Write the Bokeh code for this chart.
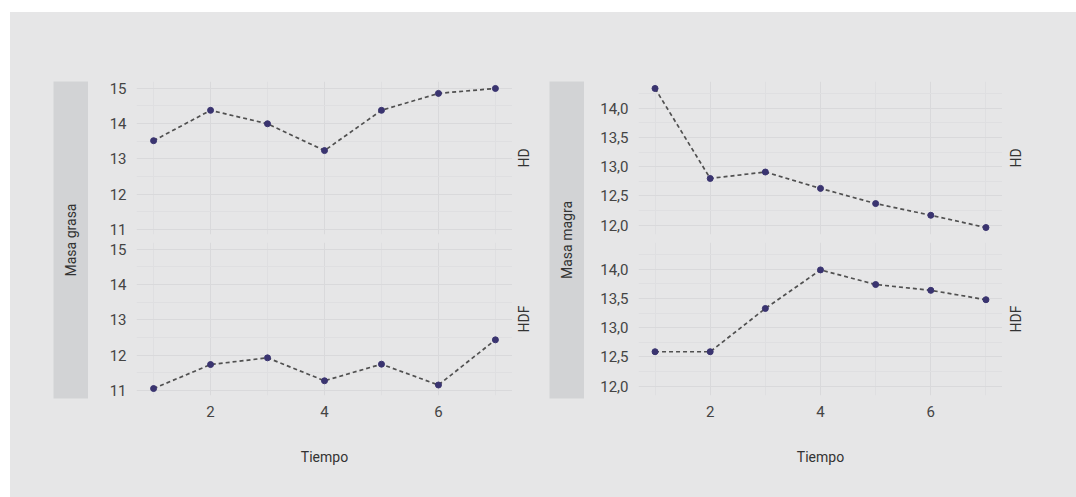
import math
from bokeh.plotting import figure
from bokeh.layouts import row, column
from bokeh.models import Range1d, Label, FixedTicker, CustomJSTickFormatter, Spacer
from bokeh.embed import file_html
from bokeh.resources import INLINE

# ---- data ----
tiempo = [1, 2, 3, 4, 5, 6, 7]
grasa_hd = [13.51, 14.37, 13.99, 13.23, 14.37, 14.85, 14.99]
grasa_hdf = [11.05, 11.73, 11.92, 11.27, 11.74, 11.15, 12.43]
magra_hd = [14.34, 12.80, 12.91, 12.63, 12.37, 12.17, 11.96]
magra_hdf = [12.59, 12.59, 13.33, 13.99, 13.74, 13.64, 13.48]
grupos = ["HD", "HDF"]
variables = ["Masa grasa", "Masa magra"]
x_title = "Tiempo"
x_ticks = [2, 4, 6]
x_minor = [1, 3, 5, 7]
grasa_ticks = [11, 12, 13, 14, 15]
grasa_minor = [11.5, 12.5, 13.5, 14.5]
magra_ticks = [12.0, 12.5, 13.0, 13.5, 14.0]
magra_minor = [12.25, 12.75, 13.25, 13.75, 14.25]

# ---- style ----
BG = "#e6e6e7"
STRIP = "#d2d3d5"
GRID = "#d9d9db"
GRID_MINOR = "#dfdfe1"
LINE = "#505050"
POINT = "#3a3470"
TEXT = "#444444"
FONT = "Roboto"
FH = 153            # facet frame height
TOP_B = 69
BOT_B = 102
GAP = 4


def padded(vals):
    lo, hi = min(vals), max(vals)
    span = hi - lo
    return lo - 0.05 * span, hi + 0.05 * span


x_lo, x_hi = padded(tiempo)


def base(frame_w, frame_h, left_b, right_b, top_b, bottom_b, fill, **kw):
    return figure(frame_width=frame_w, frame_height=frame_h,
                  min_border_left=left_b, min_border_right=right_b,
                  min_border_top=top_b, min_border_bottom=bottom_b,
                  toolbar_location=None, output_backend="svg",
                  background_fill_color=fill, border_fill_color=BG,
                  outline_line_color=None, **kw)


def facet(y, yr, ticks, minor, comma, frame_w, left_b, top_b, bottom_b, show_x):
    p = base(frame_w, FH, left_b, 0, top_b, bottom_b, BG,
             x_range=Range1d(x_lo, x_hi), y_range=Range1d(*yr))
    p.line(tiempo, y, line_color=LINE, line_width=1.7, line_dash="4 3")
    p.scatter(tiempo, y, size=6, fill_color=POINT, line_color=POINT)

    xt = FixedTicker(ticks=x_ticks, minor_ticks=x_minor)
    yt = FixedTicker(ticks=ticks, minor_ticks=minor)
    p.xaxis.ticker = xt
    p.yaxis.ticker = yt
    p.xgrid.ticker = xt
    p.ygrid.ticker = yt
    for g in (p.xgrid, p.ygrid):
        g.grid_line_color = GRID
        g.grid_line_width = 1
        g.minor_grid_line_color = GRID_MINOR
        g.minor_grid_line_width = 1

    for ax in (p.xaxis, p.yaxis):
        ax.axis_line_color = None
        ax.major_tick_line_color = None
        ax.minor_tick_line_color = None
        ax.major_label_text_font = FONT
        ax.major_label_text_font_size = "15px"
        ax.major_label_text_color = TEXT
    p.yaxis.major_label_standoff = 4
    if comma:
        p.yaxis.formatter = CustomJSTickFormatter(
            code="return tick.toFixed(1).replace('.', ',');")
    if show_x:
        p.xaxis.major_label_standoff = 4
        p.xaxis.axis_label = x_title
        p.xaxis.axis_label_text_font = FONT
        p.xaxis.axis_label_text_font_style = "normal"
        p.xaxis.axis_label_text_font_size = "14px"
        p.xaxis.axis_label_text_color = "#333333"
        p.xaxis.axis_label_standoff = 29
    else:
        p.xaxis.visible = False
    return p


def side_label(text, width, offset, top_b, bottom_b):
    p = base(width, FH, 0, 0, top_b, bottom_b, BG,
             x_range=Range1d(0, 1), y_range=Range1d(0, 1),
             x_axis_location=None, y_axis_location=None)
    p.xgrid.visible = False
    p.ygrid.visible = False
    p.add_layout(Label(x=0, y=0.5, x_offset=offset, text=text,
                       angle=math.pi / 2, text_align="center",
                       text_baseline="middle", text_font=FONT,
                       text_font_size="14px", text_color="#333333"))
    return p


def strip(text, left_b):
    p = base(35, 317, left_b, 0, TOP_B, 99, STRIP,
             x_range=Range1d(0, 1), y_range=Range1d(0, 1),
             x_axis_location=None, y_axis_location=None)
    p.xgrid.visible = False
    p.ygrid.visible = False
    p.add_layout(Label(x=0.5, y=0.5, text=text, angle=math.pi / 2,
                       text_align="center", text_baseline="middle",
                       text_font=FONT, text_font_size="14px",
                       text_color="#333333"))
    return p


g_range = padded(grasa_hd + grasa_hdf)
m_range = padded(magra_hd + magra_hdf)

gl_top = facet(grasa_hd, g_range, grasa_ticks, grasa_minor, False,
               376, 48, TOP_B, GAP, False)
gl_bot = facet(grasa_hdf, g_range, grasa_ticks, grasa_minor, False,
               376, 48, GAP, BOT_B, True)
mr_top = facet(magra_hd, m_range, magra_ticks, magra_minor, True,
               364, 54, TOP_B, GAP, False)
mr_bot = facet(magra_hdf, m_range, magra_ticks, magra_minor, True,
               364, 54, GAP, BOT_B, True)

lab_l = column(side_label(grupos[0], 37, 11, TOP_B, GAP),
               side_label(grupos[1], 37, 11, GAP, BOT_B), spacing=0)
lab_r = column(side_label(grupos[0], 74, 13, TOP_B, GAP),
               side_label(grupos[1], 74, 13, GAP, BOT_B), spacing=0)

s_left = strip(variables[0], 43)
s_right = strip(variables[1], 0)

content = row(s_left, column(gl_top, gl_bot, spacing=0), lab_l,
              s_right, column(mr_top, mr_bot, spacing=0), lab_r,
              spacing=0, styles={"background-color": BG})

layout = column(Spacer(height=12, width=1076),
                row(Spacer(width=10, height=485), content, spacing=0),
                spacing=0)

open("out.html", "w").write(file_html(layout, INLINE))
